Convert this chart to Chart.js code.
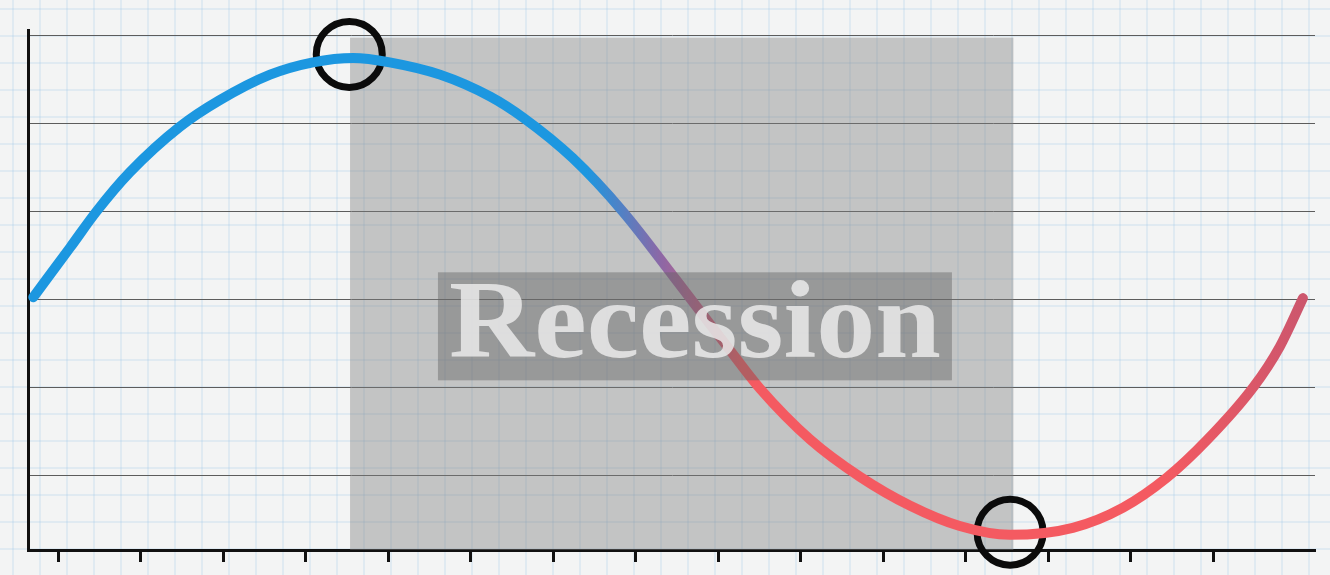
<!DOCTYPE html>
<html>
<head>
<meta charset="utf-8">
<script src="https://cdn.jsdelivr.net/npm/chart.js"></script>
<style>
  html, body { margin: 0; padding: 0; }
  body {
    width: 1330px; height: 575px; overflow: hidden;
    background-color: #f3f4f4;
    background-image:
      linear-gradient(rgba(150, 195, 230, 0.2) 2px, transparent 2px),
      linear-gradient(90deg, rgba(150, 195, 230, 0.2) 2px, transparent 2px);
    background-size: 27px 27px;
    background-position: 12px 8px;
  }
  #wrap { position: relative; width: 1330px; height: 575px; }
</style>
</head>
<body>
<div id="wrap"><canvas id="cycleChart"></canvas></div>
<script>

// x axis tick positions (no labels) and y grid levels
const xTicks = [0, 1, 2, 3, 4, 5, 6, 7, 8, 9, 10, 11, 12, 13, 14];
const yGrid = [1, 2, 3, 4, 5, 6];

// business cycle curve
const cycleX = [-0.30, 0.15, 0.47, 0.87, 1.48, 1.96, 2.57, 3.09, 3.58, 4.02, 4.63, 5.24, 5.64, 6.24,
  6.85, 7.49, 8.11, 8.51, 9.12, 9.72, 10.33, 10.93, 11.54, 12.30, 12.91, 13.44, 13.93, 14.49, 14.81, 15.09];
const cycleY = [3.02, 3.59, 4.00, 4.44, 4.96, 5.26, 5.55, 5.69, 5.74, 5.69, 5.55, 5.30, 5.06, 4.60,
  3.99, 3.22, 2.46, 1.98, 1.40, 0.98, 0.65, 0.42, 0.32, 0.40, 0.63, 0.97, 1.40, 2.00, 2.46, 3.01];

// peak and trough markers
const turnX = [3.53, 11.54];
const turnY = [5.78, 0.35];

// recession band
const recessionStart = 3.54;
const recessionEnd = 11.58;
const recessionTop = 5.97;
const recessionLabel = 'Recession';

const BLUE = '#1c97e0';
const RED = '#f45a61';

function curveGradient(context) {
  const chart = context.chart;
  const area = chart.chartArea;
  if (!area) return BLUE;
  const xs = chart.scales.x;
  const g = chart.ctx.createLinearGradient(area.left, 0, area.right, 0);
  const stop = (v, c) => {
    let f = (xs.getPixelForValue(v) - area.left) / (area.right - area.left);
    g.addColorStop(Math.min(1, Math.max(0, f)), c);
  };
  stop(6.4, BLUE);
  stop(7.3, '#8c68a6');
  stop(8.3, RED);
  stop(13.4, RED);
  stop(15.1, '#cc566d');
  return g;
}

const recessionPlugin = {
  id: 'recession',
  beforeDatasetsDraw(chart) {
    const {ctx, chartArea, scales: {x, y}} = chart;
    const left = x.getPixelForValue(recessionStart);
    const right = x.getPixelForValue(recessionEnd);
    const top = y.getPixelForValue(recessionTop);
    ctx.save();
    ctx.fillStyle = 'rgba(128,128,128,0.42)';
    ctx.fillRect(left, top, right - left, chartArea.bottom - top);
    ctx.restore();
  },
  afterDatasetsDraw(chart) {
    const {ctx, scales: {x, y}} = chart;
    // label box sits a bit right of the band centre
    const cx = x.getPixelForValue(7.72);
    const cy = y.getPixelForValue(2.69);
    const w = 514, h = 108;
    ctx.save();
    ctx.fillStyle = 'rgba(100,100,100,0.45)';
    ctx.fillRect(cx - w / 2, cy - h / 2, w, h);

    ctx.font = 'bold 110px "Liberation Serif", "DejaVu Serif", serif';
    ctx.textBaseline = 'alphabetic';
    ctx.fillStyle = 'rgba(234,234,234,0.85)';
    const tw = ctx.measureText(recessionLabel).width;
    const target = 492;
    ctx.translate(cx - target / 2, cy + 31);
    ctx.scale(target / tw, 1);
    ctx.fillText(recessionLabel, 0, 0);
    ctx.restore();
  }
};

document.addEventListener('DOMContentLoaded', function () {

  new Chart(document.getElementById('cycleChart'), {
    type: 'line',
    data: {
      datasets: [
        {
          label: 'Cycle',
          data: cycleX.map((v, i) => ({x: v, y: cycleY[i]})),
          borderColor: curveGradient,
          borderWidth: 10,
          borderCapStyle: 'round',
          borderJoinStyle: 'round',
          cubicInterpolationMode: 'monotone',
          pointRadius: 0,
          pointHoverRadius: 0,
          fill: false,
          clip: false
        },
        {
          label: 'Turning points',
          data: turnX.map((v, i) => ({x: v, y: turnY[i]})),
          showLine: false,
          pointRadius: 33,
          pointHoverRadius: 33,
          pointBorderWidth: 7,
          pointBorderColor: '#0b0b0b',
          pointBackgroundColor: 'rgba(0,0,0,0)',
          clip: false
        }
      ]
    },
    options: {
      responsive: true,
      maintainAspectRatio: false,
      animation: false,
      layout: { autoPadding: false, padding: { left: 28, top: 30, right: 15, bottom: 13 } },
      plugins: { legend: { display: false }, tooltip: { enabled: false } },
      scales: {
        x: {
          type: 'linear',
          min: -0.364,
          max: 15.236,
          afterBuildTicks: axis => { axis.ticks = xTicks.map(v => ({value: v})); },
          ticks: { display: false },
          grid: {
            drawOnChartArea: false,
            drawTicks: true,
            tickLength: 12,
            tickWidth: 3,
            tickColor: '#111'
          },
          border: { display: true, width: 3, color: '#111' }
        },
        y: {
          min: 0.148,
          max: 6.057,
          afterBuildTicks: axis => { axis.ticks = yGrid.map(v => ({value: v})); },
          ticks: { display: false },
          grid: {
            drawTicks: false,
            color: '#5c5c5c',
            lineWidth: 1
          },
          border: { display: true, width: 3, color: '#111' }
        }
      }
    },
    plugins: [recessionPlugin]
  });

});

</script>
</body>
</html>
